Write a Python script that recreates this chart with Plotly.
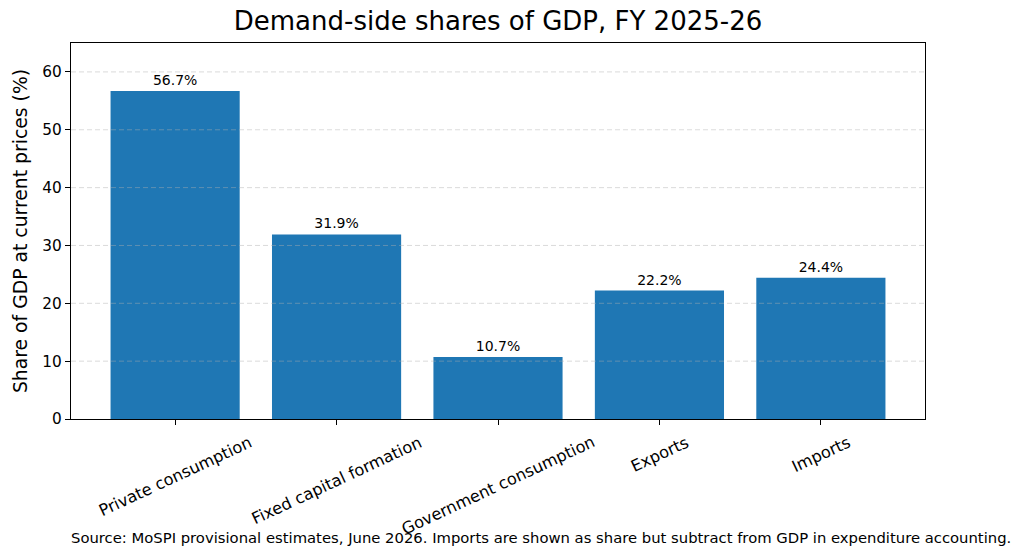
import plotly.graph_objects as go

categories = ["Private consumption", "Fixed capital formation", "Government consumption", "Exports", "Imports"]
shares = [56.7, 31.9, 10.7, 22.2, 24.4]
labels = [f"{v:.1f}%" for v in shares]
y_ticks = [0, 10, 20, 30, 40, 50, 60]
grid_values = [10, 20, 30, 40, 50, 60]

FONT = "DejaVu Sans"
x_pos = list(range(len(categories)))

fig = go.Figure()
fig.add_trace(go.Bar(
    x=x_pos,
    y=shares,
    width=0.8,
    marker=dict(color="#1f77b4", line=dict(width=0)),
    text=labels,
    textposition="outside",
    textfont=dict(family=FONT, size=14, color="#000000"),
    cliponaxis=False,
    hoverinfo="skip",
))

for g in grid_values:
    fig.add_shape(type="line", xref="paper", yref="y", x0=0, x1=1, y0=g, y1=g,
                  line=dict(color="rgba(176,176,176,0.45)", width=1, dash="5px,3px"),
                  layer="above")

# rotated category labels, centered under each tick
for xi, cat in zip(x_pos, categories):
    fig.add_annotation(
        text=cat, x=xi, xref="x", y=0, yref="paper",
        xanchor="center", yanchor="top", yshift=-11,
        textangle=-25, showarrow=False,
        font=dict(family=FONT, size=16.2, color="#000000"),
    )

fig.update_layout(
    width=1024, height=560,
    margin=dict(l=71, r=99, t=43, b=141),
    paper_bgcolor="white", plot_bgcolor="white",
    font=dict(family=FONT, color="#000000"),
    showlegend=False,
    bargap=0.2,
    title=dict(text="Demand-side shares of GDP, FY 2025-26",
               font=dict(family=FONT, size=26, color="#000000"),
               x=0.5, xref="paper", xanchor="center",
               y=0.962, yref="container", yanchor="middle"),
    xaxis=dict(
        range=[-0.645, 4.645],
        tickmode="array",
        tickvals=x_pos,
        showticklabels=False,
        ticks="outside", ticklen=5, tickwidth=1, tickcolor="black",
        showline=True, linecolor="black", linewidth=1.3, mirror=True,
        showgrid=False, zeroline=False,
    ),
    yaxis=dict(
        range=[0, 65],
        tickmode="array",
        tickvals=y_ticks,
        tickfont=dict(family=FONT, size=15.3, color="#000000"),
        ticks="outside", ticklen=5, tickwidth=1, tickcolor="black",
        showline=True, linecolor="black", linewidth=1.3, mirror=True,
        showgrid=False, zeroline=False,
        title=dict(text="Share of GDP at current prices (%)",
                   font=dict(family=FONT, size=18.8, color="#000000"), standoff=9),
    ),
)

fig.add_annotation(
    text="Source: MoSPI provisional estimates, June 2026. Imports are shown as share but subtract from GDP in expenditure accounting.",
    xref="paper", yref="paper", x=0.550, y=-0.316,
    xanchor="center", yanchor="middle", showarrow=False,
    font=dict(family=FONT, size=14.8, color="#000000"),
)

fig.write_html("out.html")
